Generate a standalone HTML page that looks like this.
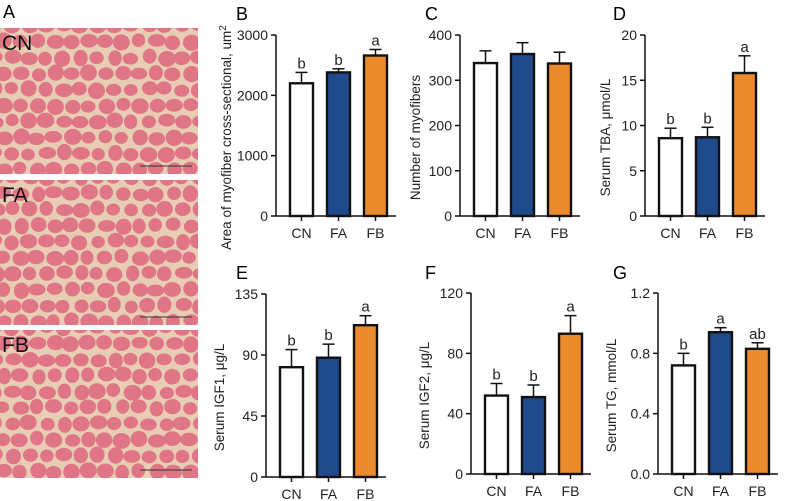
<!DOCTYPE html>
<html><head><meta charset="utf-8"><style>
body{margin:0;background:#fff;width:788px;height:501px;overflow:hidden;font-family:"Liberation Sans",Arial,sans-serif}
svg{position:absolute;left:0;top:0}
</style></head><body>
<svg id="fig" width="788" height="501"></svg>
<script>
const groups = ["CN","FA","FB"];
const bVals = [2200,2380,2660], bErr=[180,60,100], bSig=["b","b","a"], bTicks=[0,1000,2000,3000];
const cVals = [338,358,337], cErr=[27,25,25], cSig=["","",""], cTicks=[0,100,200,300,400];
const dVals = [8.6,8.7,15.8], dErr=[1.1,1.1,1.9], dSig=["b","b","a"], dTicks=[0,5,10,15,20];
const eVals = [81,88,112], eErr=[13,10,7], eSig=["b","b","a"], eTicks=[0,45,90,135];
const fVals = [52,51,93], fErr=[8,8,12], fSig=["b","b","a"], fTicks=[0,40,80,120];
const gVals = [0.72,0.94,0.83], gErr=[0.08,0.03,0.04], gSig=["b","a","ab"], gTicks=["0.0","0.4","0.8","1.2"];
const colors=["#ffffff","#1f4a8c","#ec8a2e"];
const NS="http://www.w3.org/2000/svg";
const svg=document.getElementById('fig');
function el(tag,attrs,parent){const e=document.createElementNS(NS,tag);for(const k in attrs)e.setAttribute(k,attrs[k]);(parent||svg).appendChild(e);return e;}
function txt(s,attrs,parent){const t=el('text',attrs,parent);t.textContent=s;return t;}

// histology images (decorative texture)
let seed=7;function rnd(){seed=(seed*16807)%2147483647;return seed/2147483647;}
const imgs=[["CN",28,146],["FA",180,145],["FB",330,148]];
imgs.forEach(([lab,y,h])=>{
  const g=el('g',{});
  
  
  el('rect',{x:0,y:y,width:198,height:h,fill:'#e8cdb5'},g);
  const cp=el('clipPath',{id:'cp'+lab},g);el('rect',{x:0,y:y,width:198,height:h},cp);
  const cg=el('g',{'clip-path':'url(#cp'+lab+')'},g);
  for(let yy=y-4,row=0;yy<y+h+12;yy+=16,row++){for(let xx=-6+(row%2)*8;xx<208;xx+=17){
    const rx=6.5+rnd()*2.5,ry=5.8+rnd()*2.5;
    el('ellipse',{cx:xx+rnd()*3,cy:yy+rnd()*3,rx:rx,ry:ry,fill:'#e07586'},cg);
  }}
  el('line',{x1:140,x2:192,y1:y+h-8,y2:y+h-8,stroke:'#333','stroke-width':1},g);
  const t=txt(lab,{x:2,y:y+22,'font-size':21,fill:'#111'},g);
  
  
});
const tA=txt("A",{x:3,y:18,'font-size':18});


function panel(letter,lx,ly,axX,yTop,yBot,vals,errs,sig,ticks,max,title){
  const g=el('g',{});
  
  
  const t=txt(letter,{x:lx,y:ly,'font-size':18},g);
  
  const ys=v=>yBot-(v/max)*(yBot-yTop);
  const bx=i=>axX+14+i*37;
  const bw=23;
  el('line',{x1:axX,x2:axX,y1:yTop,y2:yBot,stroke:'#111','stroke-width':1.5},g);
  el('line',{x1:axX,x2:axX+120,y1:yBot,y2:yBot,stroke:'#111','stroke-width':1.5},g);
  ticks.forEach(tk=>{const y=ys(parseFloat(tk));
    el('line',{x1:axX-5,x2:axX,y1:y,y2:y,stroke:'#111','stroke-width':1.5},g);
    const tl=txt(String(tk),{x:axX-8,y:y+5,'font-size':14,'text-anchor':'end',fill:'#222'},g);
    
  });
  vals.forEach((v,i)=>{
    const x=bx(i),top=ys(v),et=ys(v+errs[i]),cx=x+bw/2;
    el('line',{x1:cx,x2:cx,y1:top,y2:et,stroke:'#111','stroke-width':1.5},g);
    el('line',{x1:cx-6,x2:cx+6,y1:et,y2:et,stroke:'#111','stroke-width':1.5},g);
    const r=el('rect',{x:x,y:top,width:bw,height:yBot-top,fill:colors[i],stroke:'#111','stroke-width':2.4},g);
    
    
    el('line',{x1:cx,x2:cx,y1:yBot,y2:yBot+5,stroke:'#111','stroke-width':1.5},g);
    const xl=txt(groups[i],{x:cx,y:yBot+22,'font-size':14,'text-anchor':'middle',fill:'#222'},g);
    
    if(sig[i]){const s=txt(sig[i],{x:cx,y:et-4,'font-size':15,'text-anchor':'middle',fill:'#222'},g);
      }
  });
  const my=(yTop+yBot)/2+12;
  const tx=axX-title.off;
  const yt=txt(title.t,{x:tx,y:my,'font-size':13.5,'text-anchor':'middle',fill:'#222',transform:`rotate(-90 ${tx} ${my})`},g);
  if(title.sup){const ts=el('tspan',{dy:-5,'font-size':10},yt);ts.textContent=title.sup;}
  
}
panel("B",236,20,276,35,216,bVals,bErr,bSig,bTicks,3000,{t:"Area of myofiber cross-sectional, um",sup:"2",off:45});
panel("C",425,20,460,35,216,cVals,cErr,cSig,cTicks,400,{t:"Number of  myofibers",off:40});
panel("D",613,20,645,35,216,dVals,dErr,dSig,dTicks,20,{t:"Serum TBA, μmol/L",off:35});
panel("E",236,279,266,294,477,eVals,eErr,eSig,eTicks,135,{t:"Serum IGF1, μg/L",off:42});
panel("F",425,279,471,293,474,fVals,fErr,fSig,fTicks,120,{t:"Serum IGF2, μg/L",off:42});
panel("G",613,279,658,293,474,gVals,gErr,gSig,gTicks,1.2,{t:"Serum TG, mmol/L",off:42});
</script>
</body></html>
